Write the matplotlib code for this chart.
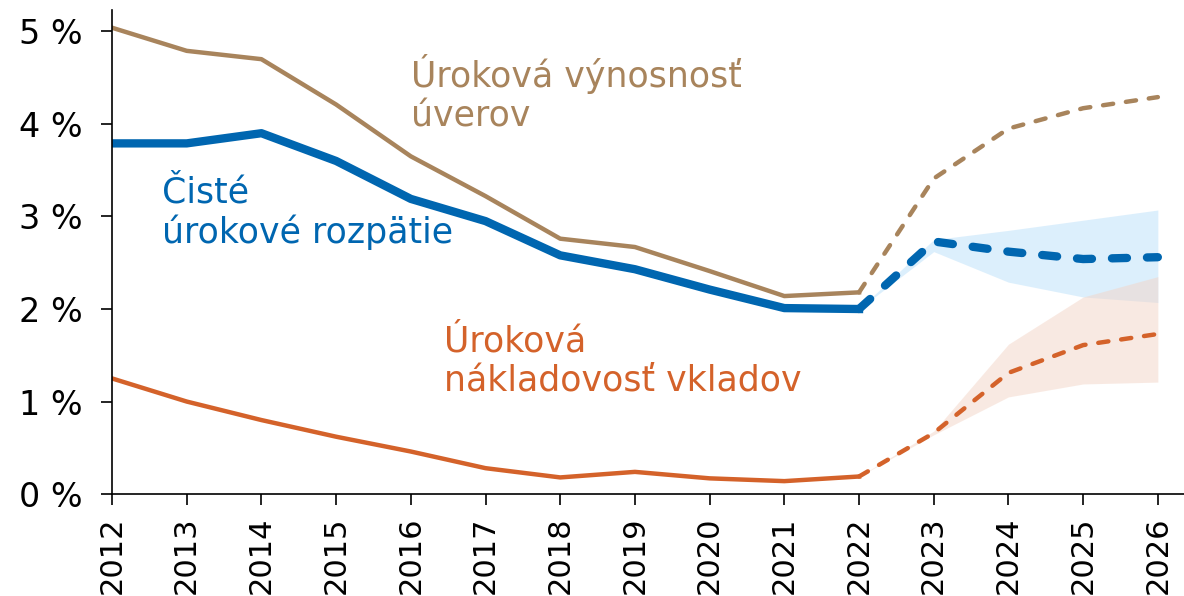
import matplotlib.pyplot as plt
import numpy as np

years = np.arange(2012, 2027)

# úroková výnosnosť úverov
vynosnost = [5.04, 4.79, 4.70, 4.21, 3.65, 3.22, 2.76, 2.67, 2.41, 2.14, 2.18, 3.41, 3.95, 4.17, 4.29]
# čisté úrokové rozpätie
rozpatie = [3.79, 3.79, 3.90, 3.60, 3.19, 2.95, 2.58, 2.43, 2.21, 2.01, 2.00, 2.73, 2.62, 2.54, 2.56]
# úroková nákladovosť vkladov
nakladovost = [1.25, 1.00, 0.80, 0.62, 0.46, 0.28, 0.18, 0.24, 0.17, 0.14, 0.19, 0.66, 1.31, 1.61, 1.73]

# pásma neistoty prognózy (2022-2026)
band_years = [2022, 2023, 2024, 2025, 2026]
rozp_low = [2.00, 2.62, 2.29, 2.13, 2.07]
rozp_high = [2.00, 2.75, 2.85, 2.96, 3.07]
nakl_low = [0.19, 0.64, 1.05, 1.19, 1.21]
nakl_high = [0.19, 0.68, 1.62, 2.13, 2.35]

last = 2022  # posledný skutočný rok

brown = '#A8845C'
blue = '#0066B0'
orange = '#D4622A'

fig = plt.figure(figsize=(11.84, 5.96), dpi=100)
ax = fig.add_axes([0.0946, 0.171, 0.9054, 0.812])

ax.fill_between(band_years, rozp_low, rozp_high, color='#BBE0FA', alpha=0.5, lw=0)
ax.fill_between(band_years, nakl_low, nakl_high, color='#F3D5C7', alpha=0.5, lw=0)

i = list(years).index(last)
ax.plot(years[:i + 1], vynosnost[:i + 1], color=brown, lw=3.2)
ax.plot(years[i:], vynosnost[i:], color=brown, lw=3.2, ls=(0, (2.3, 2.9)),
        dash_capstyle='round')

ax.plot(years[:i + 1], nakladovost[:i + 1], color=orange, lw=3.2)
ax.plot(years[i:], nakladovost[i:], color=orange, lw=3.2, ls=(0, (2.3, 2.9)),
        dash_capstyle='round')

ax.plot(years[:i + 1], rozpatie[:i + 1], color=blue, lw=6)
ax.plot(years[i:], rozpatie[i:], color=blue, lw=6, ls=(0, (1.8, 2.4)),
        dash_capstyle='round')

fs = 25
ax.text(2016, 4.33, 'Úroková výnosnosť\núverov', color=brown, fontsize=fs,
        va='center', ha='left', linespacing=1.2)
ax.text(2012.67, 3.04, 'Čisté\núrokové rozpätie', color=blue, fontsize=fs,
        va='center', ha='left', linespacing=1.2)
ax.text(2016.45, 1.44, 'Úroková\nnákladovosť vkladov', color=orange, fontsize=fs,
        va='center', ha='left', linespacing=1.2)

ax.set_xlim(2012, 2026.35)
ax.set_ylim(0, 5.23)
ax.set_xticks(years)
ax.set_xticklabels([str(y) for y in years], rotation=90, fontsize=22)
ax.set_yticks([0, 1, 2, 3, 4, 5])
ax.set_yticklabels(['0 %', '1 %', '2 %', '3 %', '4 %', '5 %'], fontsize=24)
ax.tick_params(length=8, width=1.2, direction='out')
ax.tick_params(axis='x', pad=8)
ax.tick_params(axis='y', pad=13)
ax.spines['top'].set_visible(False)
ax.spines['right'].set_visible(False)
ax.spines['left'].set_linewidth(1.2)
ax.spines['bottom'].set_linewidth(1.2)

fig.savefig('out.png', dpi=100)
